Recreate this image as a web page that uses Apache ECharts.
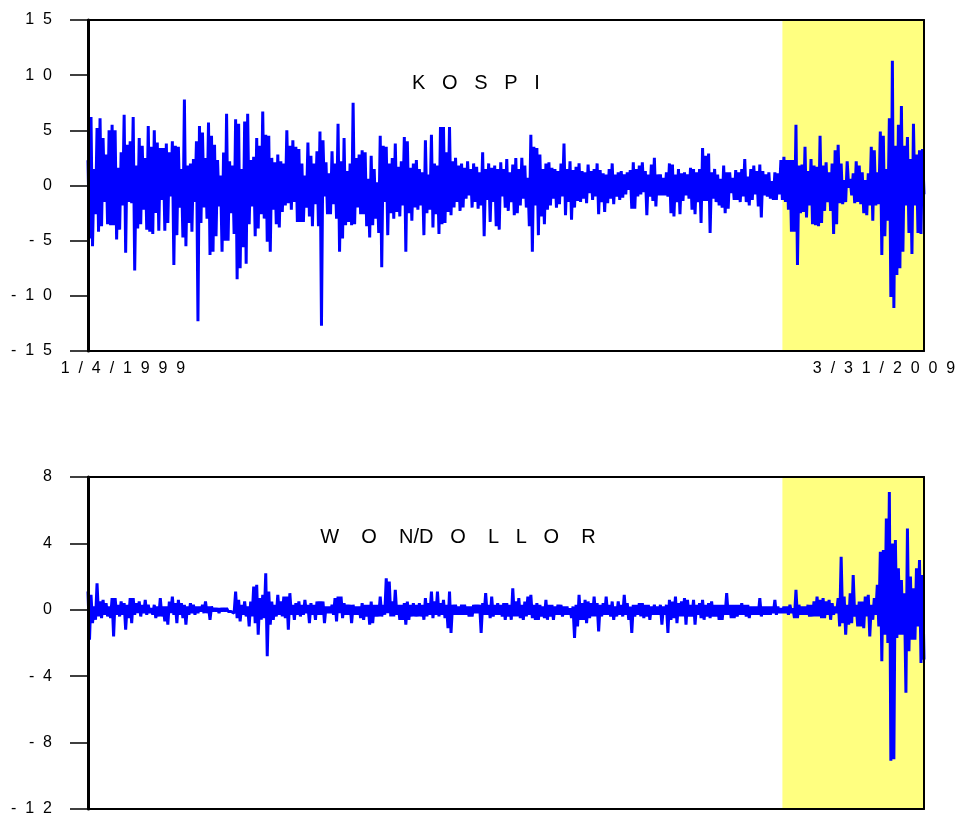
<!DOCTYPE html>
<html>
<head>
<meta charset="utf-8">
<title>KOSPI and WON/DOLLOR returns</title>
<script src="https://cdn.jsdelivr.net/npm/echarts@6/dist/echarts.min.js"></script>
<style>
html, body { margin: 0; padding: 0; background: #fff; }
#chart { width: 964px; height: 817px; }
</style>
</head>
<body>
<div id="chart"></div>
<script>
// daily returns: one high and one low per few trading days
var kospiUp = [
    2.3, 6.2, 1.5, 5.2, 6.1, 4.3, 2.8, 5.0, 5.5, 5.0,
    1.6, 3.0, 6.4, 3.7, 4.0, 6.2, 1.8, 4.3, 3.6, 2.5,
    5.4, 3.5, 5.0, 3.9, 3.4, 3.4, 3.8, 3.0, 4.0, 3.6,
    3.5, 1.5, 7.8, 1.8, 2.0, 2.4, 4.0, 5.4, 4.8, 2.5,
    5.7, 4.5, 3.7, 2.3, 0.9, 3.0, 6.5, 2.2, 1.8, 6.0,
    5.6, 1.5, 5.8, 6.5, 2.3, 2.6, 4.3, 3.6, 6.7, 4.6,
    4.5, 2.5, 2.1, 2.8, 2.2, 2.0, 5.0, 3.6, 4.1, 3.5,
    3.3, 2.0, 0.9, 3.9, 2.7, 2.0, 3.1, 4.9, 4.1, 2.1,
    1.1, 3.1, 2.0, 5.6, 2.2, 4.3, 1.3, 2.0, 7.5, 2.5,
    2.8, 3.2, 3.0, 0.6, 2.7, 1.5, 0.3, 4.5, 3.6, 3.5,
    2.0, 2.5, 3.8, 1.7, 2.2, 4.4, 4.0, 1.6, 2.0, 2.3,
    1.5, 1.2, 4.1, 1.0, 4.6, 2.0, 1.8, 5.3, 5.3, 3.0,
    5.3, 2.2, 2.5, 1.8, 2.0, 1.6, 2.2, 1.5, 2.0, 1.7,
    1.2, 3.0, 1.5, 2.0, 1.6, 1.8, 1.5, 2.1, 1.5, 2.4,
    1.2, 1.9, 2.5, 1.5, 2.5, 1.8, 0.7, 4.6, 3.5, 3.4,
    2.8, 1.5, 2.0, 2.1, 1.6, 1.5, 1.3, 2.0, 3.8, 1.5,
    2.2, 1.4, 1.7, 2.0, 1.3, 1.2, 1.9, 1.3, 1.5, 2.0,
    1.4, 1.1, 1.0, 1.5, 2.0, 1.0, 1.2, 1.3, 1.0, 1.2,
    1.4, 2.1, 1.5, 1.8, 2.1, 1.3, 1.0, 1.9, 2.5, 1.0,
    1.0, 0.7, 1.2, 2.0, 1.9, 1.0, 1.5, 1.1, 1.2, 1.0,
    1.6, 1.5, 1.2, 1.5, 3.4, 2.7, 2.9, 1.2, 1.5, 1.0,
    0.6, 1.8, 1.2, 1.2, 0.7, 1.4, 1.2, 1.5, 2.4, 0.8,
    1.5, 1.8, 1.3, 1.9, 1.3, 1.0, 1.2, 0.4, 1.2, 1.1,
    2.3, 2.6, 2.3, 2.3, 2.3, 5.5, 1.8, 1.9, 3.5, 1.3,
    2.4, 1.8, 1.7, 4.5, 1.8, 2.1, 1.2, 2.0, 3.2, 3.7,
    2.0, 0.5, 2.2, 0.6, 1.1, 2.2, 1.8, 1.2, 0.5, 1.1,
    3.5, 3.2, 1.2, 4.9, 4.5, 1.5, 6.1, 11.3, 3.6, 5.5,
    7.2, 3.6, 4.4, 2.4, 5.6, 2.8, 3.2, 3.3
];
var kospiDown = [
    -4.8, -5.5, -2.6, -4.2, -3.7, -1.5, -3.5, -3.6, -3.6, -4.9,
    -4.0, -1.8, -6.1, -1.5, -1.6, -7.7, -3.9, -3.5, -2.2, -4.0,
    -4.2, -4.4, -2.5, -4.1, -1.3, -4.1, -3.4, -1.0, -7.2, -4.5,
    -2.0, -4.7, -5.5, -3.4, -4.2, -1.5, -12.3, -3.4, -2.0, -3.0,
    -6.3, -6.0, -4.6, -1.9, -6.0, -5.0, -5.0, -2.5, -4.4, -8.5,
    -7.5, -5.6, -7.1, -3.5, -1.9, -4.6, -3.9, -2.6, -3.0, -5.1,
    -6.0, -2.2, -3.5, -3.8, -2.4, -1.8, -1.6, -2.2, -1.5, -3.3,
    -3.3, -3.3, -2.0, -2.8, -3.7, -1.7, -3.7, -12.7, -1.0, -2.6,
    -2.6, -1.7, -3.0, -6.0, -4.8, -3.6, -3.3, -3.6, -3.5, -2.0,
    -2.6, -2.6, -3.7, -4.7, -3.6, -3.0, -4.3, -7.4, -1.5, -4.5,
    -2.5, -3.0, -2.4, -2.8, -1.8, -6.0, -2.5, -3.2, -2.0, -2.2,
    -1.8, -4.5, -2.5, -2.2, -3.8, -2.6, -4.4, -3.5, -3.4, -2.4,
    -2.7, -2.0, -1.5, -2.3, -2.0, -1.2, -0.9, -2.0, -1.5, -2.1,
    -1.8, -4.6, -1.3, -3.3, -1.5, -3.7, -4.0, -1.0, -2.0, -2.3,
    -1.5, -2.7, -2.5, -1.8, -1.2, -2.0, -3.7, -6.0, -1.8, -4.5,
    -2.8, -3.5, -2.2, -1.8, -1.2, -2.0, -1.7, -1.0, -2.7, -1.5,
    -3.1, -2.0, -1.4, -1.5, -1.2, -1.6, -0.7, -1.3, -1.0, -2.6,
    -1.5, -2.4, -1.6, -1.2, -1.7, -1.0, -1.3, -1.1, -0.8, -0.4,
    -2.1, -2.1, -1.0, -0.8, -0.6, -2.7, -1.0, -1.4, -1.9, -0.9,
    -0.9, -0.9, -1.0, -2.5, -2.8, -1.5, -2.6, -1.4, -0.9, -1.2,
    -2.2, -2.6, -1.5, -3.4, -1.4, -1.4, -4.3, -1.2, -1.5, -1.8,
    -2.0, -2.5, -2.1, -0.7, -1.3, -1.3, -1.5, -1.0, -1.5, -1.8,
    -1.3, -0.8, -1.9, -2.9, -0.9, -1.0, -1.2, -1.3, -1.3, -0.8,
    -1.3, -1.5, -2.2, -4.2, -4.2, -7.2, -2.5, -2.4, -2.9, -1.8,
    -3.5, -3.6, -3.7, -3.4, -2.3, -1.5, -2.3, -4.4, -3.5, -1.6,
    -1.7, -1.5, -0.2, -0.9, -1.6, -1.5, -1.7, -2.5, -2.7, -1.8,
    -3.2, -1.8, -1.7, -6.3, -4.6, -3.2, -10.1, -11.1, -8.1, -7.5,
    -6.0, -1.8, -4.3, -6.2, -1.8, -4.3, -4.4, -0.8
];
var wonUp = [
    1.1, 0.9, 0.2, 1.6, 0.5, 0.6, 0.4, 0.2, 0.7, 0.7,
    0.3, 0.5, 0.4, 0.3, 0.7, 0.7, 0.4, 0.5, 0.3, 0.6,
    0.3, 0.1, 0.3, 0.2, 0.7, 0.2, 0.2, 0.5, 0.8, 0.4,
    0.6, 0.4, 0.3, 0.2, 0.4, 0.3, 0.2, 0.2, 0.3, 0.5,
    0.2, 0.2, 0.1, 0.1, 0.1, 0.1, 0.1, 0.0, 0.0, 1.1,
    0.6, 0.3, 0.5, 0.2, 0.5, 1.4, 1.5, 0.7, 0.9, 2.2,
    1.1, 0.5, 0.3, 0.9, 0.5, 0.8, 0.8, 1.0, 0.3, 0.4,
    0.5, 0.3, 0.6, 0.3, 0.4, 0.3, 0.5, 0.5, 0.5, 0.2,
    0.2, 0.3, 0.7, 0.8, 0.8, 0.4, 0.3, 0.3, 0.3, 0.2,
    0.2, 0.4, 0.3, 0.3, 0.5, 0.3, 0.3, 0.8, 0.3, 1.9,
    1.7, 0.5, 1.2, 0.3, 0.3, 0.4, 0.5, 0.3, 0.4, 0.3,
    0.4, 0.3, 0.7, 0.4, 1.1, 0.5, 1.1, 0.4, 0.6, 0.3,
    1.1, 0.3, 0.3, 0.2, 0.3, 0.3, 0.2, 0.2, 0.3, 0.3,
    0.3, 0.4, 1.0, 0.3, 0.8, 0.3, 0.4, 0.3, 0.4, 0.4,
    0.3, 1.3, 0.5, 0.7, 0.3, 0.5, 0.8, 0.9, 0.3, 0.4,
    0.3, 0.2, 0.6, 0.3, 0.3, 0.2, 0.3, 0.3, 0.2, 0.2,
    0.1, 0.2, 0.3, 0.9, 0.4, 0.6, 0.5, 0.4, 0.8, 0.4,
    0.3, 0.4, 0.8, 0.3, 0.5, 0.2, 0.5, 0.3, 0.9, 0.4,
    0.2, 0.3, 0.3, 0.4, 0.4, 0.3, 0.3, 0.2, 0.3, 0.2,
    0.3, 0.2, 0.3, 0.6, 0.5, 0.8, 0.4, 0.5, 0.7, 0.6,
    0.3, 0.6, 0.3, 0.4, 0.6, 0.3, 0.4, 0.5, 0.3, 0.3,
    0.3, 0.3, 1.0, 0.3, 0.3, 0.3, 0.3, 0.4, 0.3, 0.3,
    0.2, 0.2, 0.2, 0.7, 0.2, 0.2, 0.2, 0.2, 0.6, 0.2,
    0.1, 0.2, 0.2, 0.3, 0.1, 1.2, 0.3, 0.2, 0.2, 0.3,
    0.3, 0.5, 0.8, 0.6, 0.7, 0.5, 0.6, 0.4, 0.2, 0.7,
    3.2, 0.8, 0.3, 1.0, 2.1, 0.3, 0.5, 0.5, 0.8, 0.9,
    0.3, 0.7, 1.5, 3.5, 3.6, 5.5, 7.1, 4.0, 4.2, 2.5,
    1.8, 1.0, 4.9, 2.0, 1.3, 2.5, 3.0, 2.1
];
var wonDown = [
    -1.8, -0.8, -0.6, -0.4, -0.5, -0.3, -0.4, -0.5, -1.6, -0.3,
    -0.4, -0.3, -1.2, -0.5, -0.8, -0.3, -0.2, -0.4, -0.2, -0.3,
    -0.2, -0.3, -0.5, -0.4, -0.4, -0.7, -0.9, -0.2, -0.3, -0.8,
    -0.3, -0.5, -0.9, -0.3, -0.2, -0.3, -0.2, -0.1, -0.2, -0.2,
    -0.6, -0.1, -0.1, -0.2, -0.1, -0.1, -0.1, -0.1, -0.2, -0.5,
    -0.7, -0.3, -0.4, -1.0, -0.4, -0.8, -1.5, -0.6, -0.5, -2.8,
    -0.9, -0.6, -0.4, -0.3, -0.4, -0.5, -1.2, -0.3, -0.6, -0.3,
    -0.4, -0.3, -0.2, -0.8, -0.3, -0.6, -0.3, -0.3, -0.8, -0.2,
    -0.2, -0.3, -0.7, -0.2, -0.5, -0.3, -0.3, -0.8, -0.3, -0.3,
    -0.5, -0.6, -0.4, -0.9, -0.8, -0.4, -0.4, -0.4, -0.3, -0.2,
    -0.4, -0.4, -0.3, -0.6, -0.6, -0.9, -0.6, -0.4, -0.4, -0.4,
    -0.4, -0.6, -0.4, -0.3, -0.5, -0.3, -0.4, -0.3, -0.5, -1.1,
    -1.4, -0.3, -0.3, -0.3, -0.3, -0.3, -0.4, -0.4, -0.2, -0.2,
    -1.4, -0.3, -0.3, -0.5, -0.4, -0.3, -0.3, -0.4, -0.6, -0.4,
    -0.6, -0.4, -0.4, -0.5, -0.6, -0.4, -0.3, -0.5, -0.6, -0.6,
    -0.4, -0.5, -0.6, -0.4, -0.6, -0.3, -0.3, -0.4, -0.3, -0.3,
    -0.5, -1.7, -1.0, -0.6, -0.6, -0.8, -0.5, -0.4, -0.4, -1.3,
    -0.4, -0.3, -0.3, -0.4, -0.6, -0.4, -0.3, -0.4, -0.3, -0.6,
    -1.4, -0.4, -0.3, -0.4, -0.5, -0.4, -0.6, -0.3, -0.3, -0.3,
    -0.9, -0.3, -1.4, -0.6, -0.5, -0.8, -0.4, -0.4, -0.9, -0.4,
    -0.4, -0.9, -0.3, -0.5, -0.6, -0.4, -0.5, -0.4, -0.4, -0.6,
    -0.6, -0.3, -0.3, -0.5, -0.5, -0.4, -0.3, -0.3, -0.4, -0.5,
    -0.3, -0.3, -0.3, -0.4, -0.3, -0.3, -0.3, -0.2, -0.3, -0.2,
    -0.2, -0.2, -0.3, -0.2, -0.5, -0.5, -0.3, -0.3, -0.3, -0.4,
    -0.4, -0.4, -0.4, -0.5, -0.5, -0.3, -0.6, -0.3, -0.2, -1.0,
    -0.8, -1.5, -0.9, -0.8, -0.4, -1.0, -1.0, -1.1, -0.4, -1.6,
    -0.6, -0.3, -1.0, -3.1, -1.5, -2.0, -9.1, -9.0, -1.7, -1.5,
    -1.5, -5.0, -2.5, -1.8, -1.8, -1.0, -3.2, -3.0
];
var startLabel = '1/4/1999';
var endLabel = '3/31/2009';
var shadeStart = 461;   // observation where the shaded period begins

var FONT = "'Liberation Sans', Arial, sans-serif";
var lastObs = kospiUp.length * 2 - 1;

// old-style wide lettering: every character followed by spaces
function spaced(s, gap) {
    return String(s).split('').join(gap || '  ');
}

function zigzag(up, down) {
    var out = [];
    for (var i = 0; i < up.length; i++) {
        out.push([2 * i, up[i]]);
        out.push([2 * i + 1, down[i]]);
    }
    return out;
}

function frameX(gridIndex, pos) {
    return {
        type: 'value', gridIndex: gridIndex, position: pos,
        min: 0, max: lastObs, z: 10,
        axisLine: { show: true, onZero: false, lineStyle: { color: '#000', width: 2 } },
        axisTick: { show: false }, axisLabel: { show: false }, splitLine: { show: false }
    };
}

function leftY(gridIndex, min, max, step) {
    return {
        type: 'value', gridIndex: gridIndex, min: min, max: max, interval: step, z: 10,
        axisLine: { show: true, onZero: false, lineStyle: { color: '#000', width: 3 } },
        axisTick: { show: true, length: 18, lineStyle: { color: '#000', width: 1.5 } },
        axisLabel: {
            margin: 36, color: '#000', fontSize: 16, fontFamily: FONT,
            formatter: function (v) { return spaced(v); }
        },
        splitLine: { show: false }
    };
}

function rightY(gridIndex, min, max) {
    return {
        type: 'value', gridIndex: gridIndex, position: 'right', min: min, max: max, z: 10,
        axisLine: { show: true, onZero: false, lineStyle: { color: '#000', width: 2 } },
        axisTick: { show: false }, axisLabel: { show: false }, splitLine: { show: false }
    };
}

function returnSeries(idx, up, down) {
    return {
        type: 'line', xAxisIndex: idx * 2, yAxisIndex: idx * 2,
        data: zigzag(up, down),
        showSymbol: false, symbol: 'none', sampling: null,
        lineStyle: { color: '#0000ff', width: 3 },
        markArea: {
            silent: true,
            itemStyle: { color: '#ffff80' },
            data: [[{ xAxis: shadeStart }, { xAxis: lastObs }]]
        }
    };
}

function label(text, x, y, size) {
    return {
        type: 'text', x: x, y: y, z: 20,
        style: { text: text, font: size + 'px ' + FONT, fill: '#000', align: 'center', verticalAlign: 'middle' }
    };
}

var chart = echarts.init(document.getElementById('chart'));
chart.setOption({
    animation: false,
    backgroundColor: '#fff',
    grid: [
        { left: 88, right: 40, top: 20, height: 331 },
        { left: 88, right: 40, top: 477, height: 332 }
    ],
    xAxis: [frameX(0, 'bottom'), frameX(0, 'top'), frameX(1, 'bottom'), frameX(1, 'top')],
    yAxis: [leftY(0, -15, 15, 5), rightY(0, -15, 15), leftY(1, -12, 8, 4), rightY(1, -12, 8)],
    series: [returnSeries(0, kospiUp, kospiDown), returnSeries(1, wonUp, wonDown)],
    graphic: [
        label(spaced('KOSPI', '   '), 476, 83, 20),
        label('W    O    N/D   O    L   L   O    R', 458, 537, 20),
        label(spaced(startLabel), 123, 369, 16),
        label(spaced(endLabel), 884, 369, 16)
    ]
});
</script>
</body>
</html>
